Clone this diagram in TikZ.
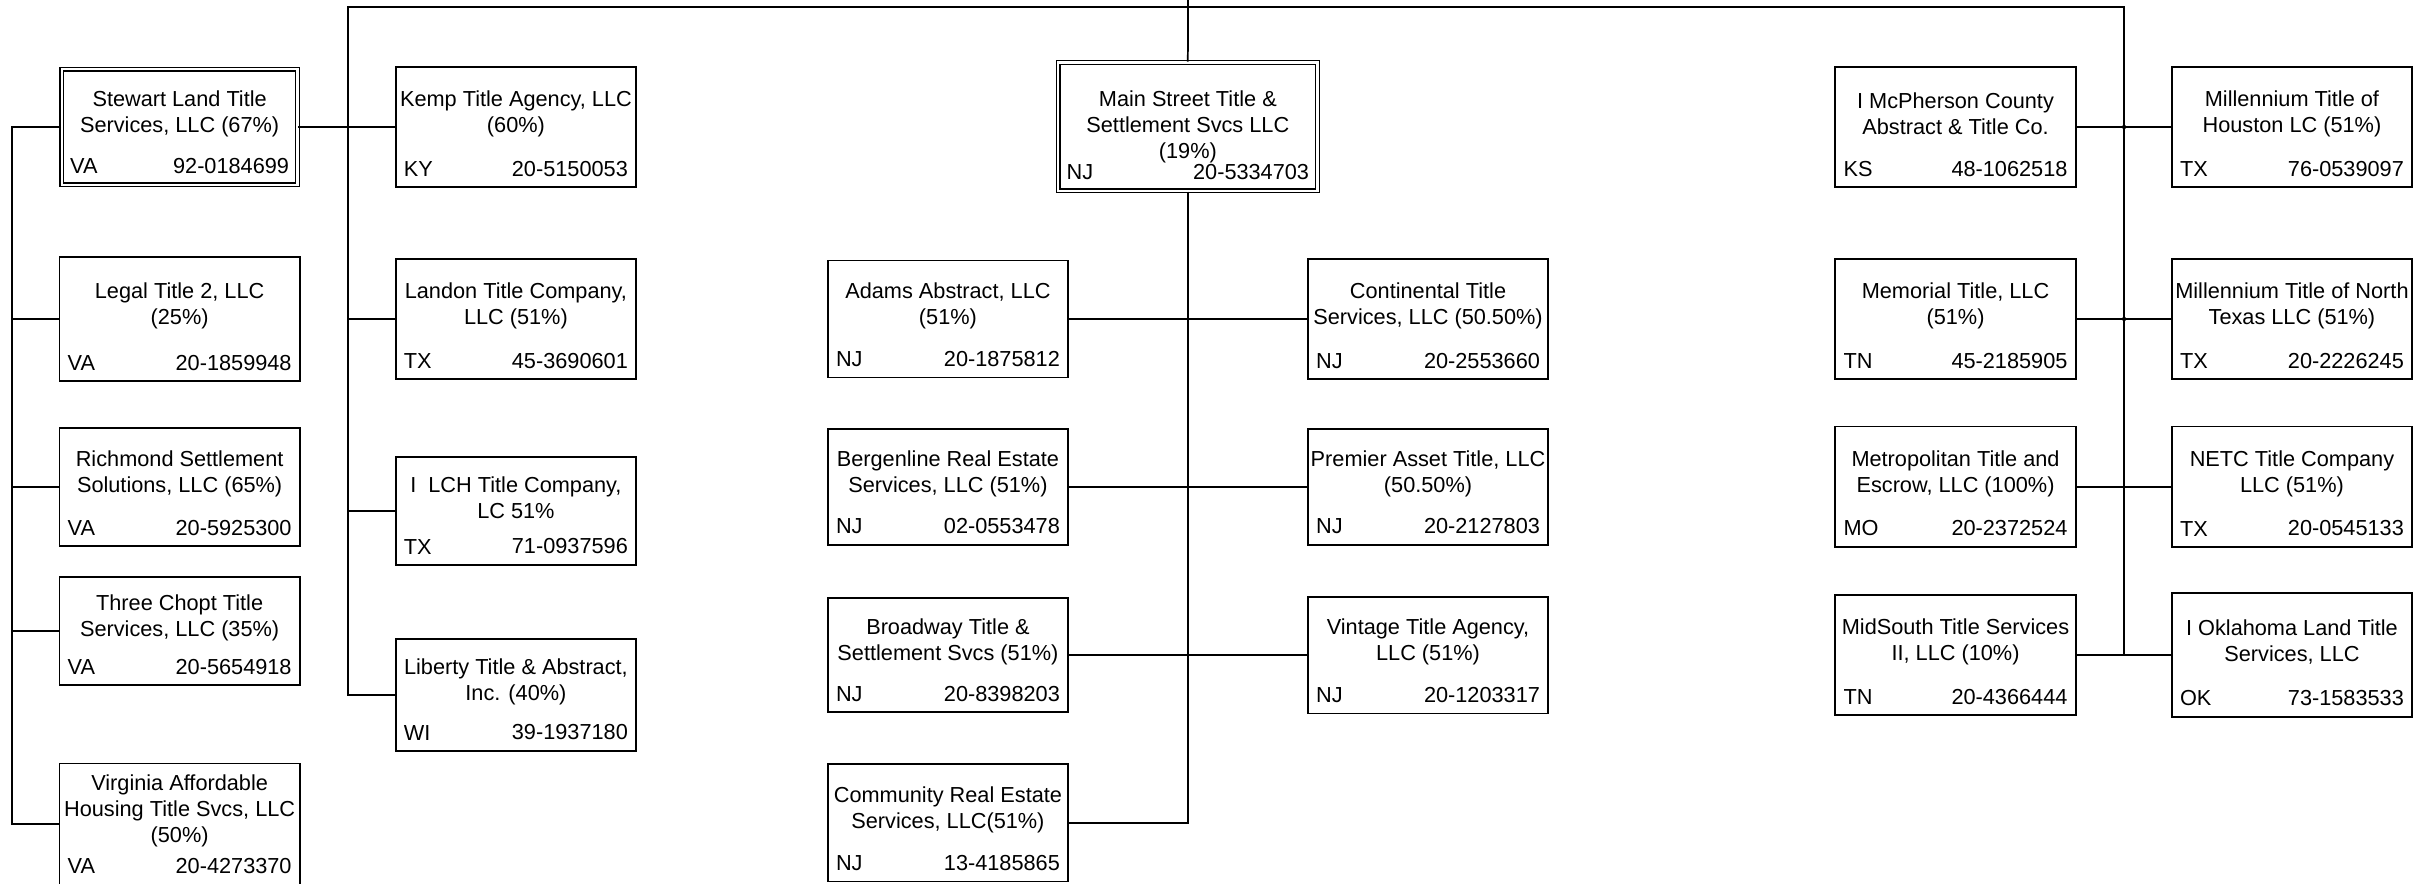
\documentclass[tikz,border=0pt]{standalone}
\usepackage{fontspec}
\setmainfont{Liberation Sans}
\usepackage{tikz}
\usetikzlibrary{positioning}
\tikzset{firm/.style={draw, rectangle, minimum width=3.89cm, minimum height=1.95cm, inner sep=0pt}}
\tikzset{parent/.style={double, double distance=1.1pt, line width=0.6pt, minimum width=3.815cm, minimum height=1.87cm}}
\tikzset{fname/.style={align=center, inner sep=0pt}}
\tikzset{fstate/.style={inner xsep=3.8pt, inner ysep=5pt}}

% #1 shift of the name, #2 node, #3 centre, #4 box options, #5 name, #6 state, #7 EIN
\newcommand{\firm}[7][6pt]{%
  \node[firm,#4] (#2) at (#3) {};
  \node[fname] (#2-name) at ([yshift=#1]#2.center) {#5};
  \node[fstate,anchor=south west] (#2-st) at (#2.south west) {#6};
  \node[fstate,anchor=south east] (#2-ein) at (#2.south east) {#7};
}

\begin{document}
\begin{tikzpicture}[x=0.025cm, y=-0.025cm, line width=0.8pt]
\useasboundingbox (0,0) rectangle (1568,571.67);

% Virginia group
\firm{stewart}{116.3,82.2}{parent}{Stewart Land Title\\Services, LLC (67\%)}{VA}{92-0184699}
\firm{legal}{116.3,206.5}{minimum height=2.01cm}{Legal Title 2, LLC\\(25\%)}{VA}{20-1859948}
\firm{richmond}{116.3,315.5}{minimum height=1.91cm}{Richmond Settlement\\Solutions, LLC (65\%)}{VA}{20-5925300}
\firm{threechopt}{116.3,408.5}{minimum height=1.75cm}{Three Chopt Title\\Services, LLC (35\%)}{VA}{20-5654918}
\firm{virginia}{116.3,533.5}{minimum height=1.96cm}{Virginia Affordable\\Housing Title Svcs, LLC\\(50\%)}{VA}{20-4273370}

\firm{kemp}{334,82.2}{}{Kemp Title Agency, LLC\\(60\%)}{KY}{20-5150053}
\firm{landon}{334,206.5}{}{Landon Title Company,\\LLC (51\%)}{TX}{45-3690601}
\firm{lch}{334,330.7}{minimum height=1.75cm}{I\ \ LCH Title Company,\\LC 51\%}{TX}{71-0937596}
\firm{liberty}{334,450}{minimum height=1.81cm}{Liberty Title \& Abstract,\\Inc. (40\%)}{WI}{39-1937180}

% New Jersey group
\firm[0pt]{main}{769,82}{parent,minimum width=4.1975cm,minimum height=2.08cm}{Main Street Title \&\\Settlement Svcs LLC\\(19\%)}{NJ}{20-5334703}
\firm{adams}{613.7,206.5}{minimum height=1.89cm}{Adams Abstract, LLC\\(51\%)}{NJ}{20-1875812}
\firm{bergenline}{613.7,315.2}{minimum height=1.88cm}{Bergenline Real Estate\\Services, LLC (51\%)}{NJ}{02-0553478}
\firm{broadway}{613.7,424.1}{minimum height=1.85cm}{Broadway Title \&\\Settlement Svcs (51\%)}{NJ}{20-8398203}
\firm{community}{613.7,532.7}{minimum height=1.9cm}{Community Real Estate\\Services, LLC(51\%)}{NJ}{13-4185865}
\firm{continental}{924.5,206.5}{}{Continental Title\\Services, LLC (50.50\%)}{NJ}{20-2553660}
\firm{premier}{924.5,315.2}{minimum height=1.88cm}{Premier Asset Title, LLC\\(50.50\%)}{NJ}{20-2127803}
\firm{vintage}{924.5,424.1}{minimum height=1.89cm}{Vintage Title Agency,\\LLC (51\%)}{NJ}{20-1203317}

% Texas group
\firm{mcpherson}{1266,82.2}{}{I McPherson County\\Abstract \& Title Co.}{KS}{48-1062518}
\firm{memorial}{1266,206.5}{}{Memorial Title, LLC\\(51\%)}{TN}{45-2185905}
\firm{metropolitan}{1266,315.1}{}{Metropolitan Title and\\Escrow, LLC (100\%)}{MO}{20-2372524}
\firm{midsouth}{1266,424.1}{}{MidSouth Title Services\\II, LLC (10\%)}{TN}{20-4366444}
\firm{millhouston}{1483.8,82.2}{}{Millennium Title of\\Houston LC (51\%)}{TX}{76-0539097}
\firm{millnorth}{1483.8,206.5}{}{Millennium Title of North\\Texas LLC (51\%)}{TX}{20-2226245}
\firm{netc}{1483.8,315.1}{}{NETC Title Company\\LLC (51\%)}{TX}{20-0545133}
\firm{oklahoma}{1483.8,424.1}{minimum height=2.0cm}{I Oklahoma Land Title\\Services, LLC}{OK}{73-1583533}

\coordinate (lbus) at (7.8,0);
\coordinate (tl) at (225.1,4.3);
\coordinate (tr) at (1375.1,4.3);
\coordinate (up) at (769.2,-10);

\draw (stewart.west) -- (lbus |- stewart.west) -- (lbus |- virginia.west) -- (virginia.west);
\foreach \f in {legal,richmond,threechopt}
  \draw (\f.west) -- (lbus |- \f.west);

\draw (liberty.west) -- (tl |- liberty.west) -- (tl) -- (tr) -- (tr |- oklahoma.west);
\draw (stewart.east) -- (kemp.west);
\foreach \f in {landon,lch}
  \draw (\f.west) -- (tl |- \f.west);

\draw (up) -- (main.north);
\draw (main.south) |- (community.east);
\draw (adams.east) -- (continental.west);
\draw (bergenline.east) -- (premier.west);
\draw (broadway.east) -- (vintage.west);

\draw (mcpherson.east) -- (millhouston.west);
\draw (memorial.east) -- (millnorth.west);
\draw (metropolitan.east) -- (netc.west);
\draw (midsouth.east) -- (oklahoma.west);
\fill (tr |- mcpherson.east) circle (1.4);
\fill (tr |- memorial.east) circle (1.4);
\end{tikzpicture}
\end{document}
